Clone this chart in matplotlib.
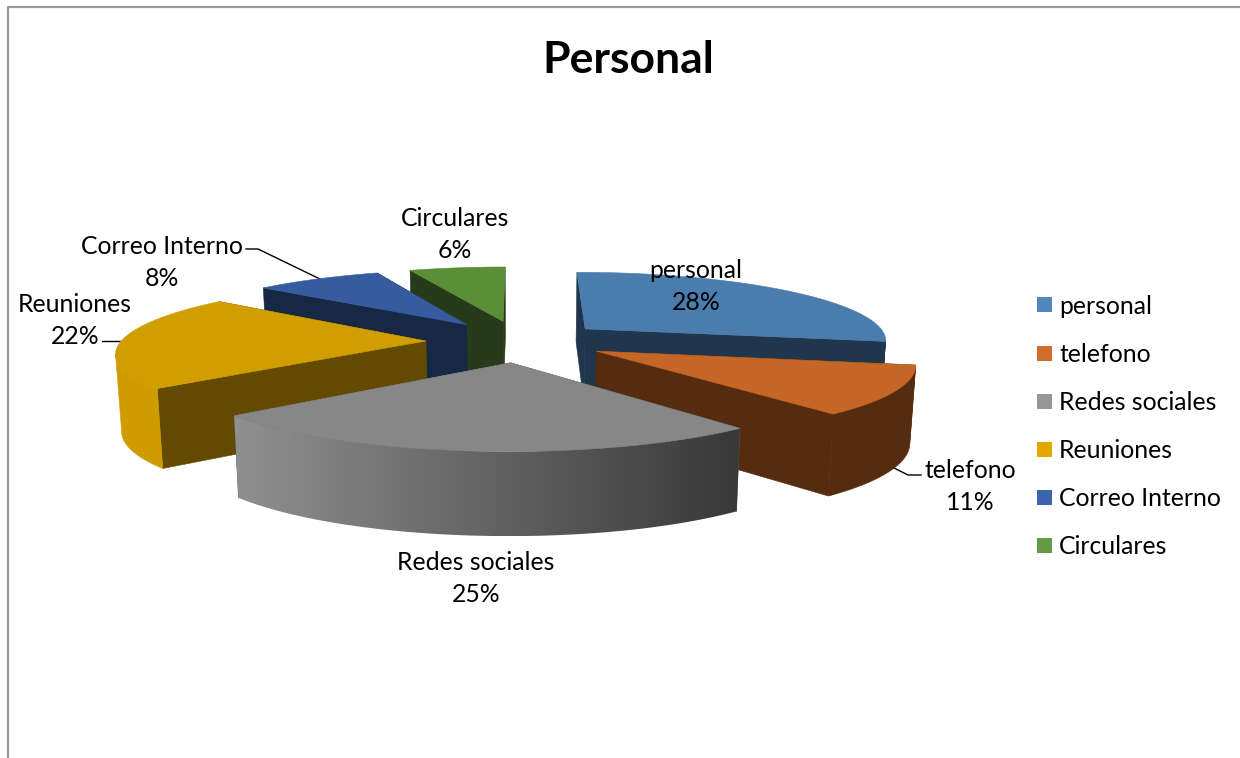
import numpy as np
from matplotlib import pyplot as plt
from matplotlib.colors import LinearSegmentedColormap
from matplotlib.patches import Polygon

plt.rcParams['font.family'] = ['Lato', 'DejaVu Sans']

categories = ['personal', 'telefono', 'Redes sociales', 'Reuniones', 'Correo Interno', 'Circulares']
values = [28, 11, 25, 22, 8, 6]
top_colors = ['#4a7cad', '#c46626', '#878787', '#d19e00', '#365c9f', '#5a8f38']
wall_colors = ['#20364d', '#562c10', '#5a5a5a', '#644a00', '#172845', '#273a1a']
outer_colors = ['#20364d', '#562c10', None, '#cf9c00', '#172845', '#273a1a']
legend_colors = ['#5088bd', '#d06c2c', '#969696', '#e2a800', '#3d64ad', '#649a41']
# slices are painted from the back of the pie to the front
paint_order = [5, 4, 3, 0, 1, 2]

# camera for the tilted pie, everything in pixels
cx, cy = 520, 341
rx_left, rx_right = 314, 310
ry = 69.7
persp = 0.151
explode = [0.28, 0.28, 0.30, 0.30, 0.30, 0.30]
radius = [0.98, 0.99, 0.98, 0.97, 0.97, 0.97]
depth = 76
shrink = 0.985


def project(x, c):
    w = 1 - persp * c
    rx = np.where(np.asarray(x) < 0, rx_left, rx_right)
    return cx + rx * x / w, cy + ry * c / w


def project_low(x, c):
    # same point on the underside of the pie
    sx, sy = project(x, c)
    return cx + (sx - cx) * shrink, sy + depth / (1 - 0.08 * c)


def fill_xy(ax, xs, ys, color, z):
    ax.fill(xs, ys, color=color, linewidth=0.4, zorder=z)


fig = plt.figure(figsize=(12.4, 7.58), dpi=100)
ax = fig.add_axes([0, 0, 1, 1])

# outline of the chart area, cut off on the right and at the bottom
ax.plot([7.5, 7.5, 1240], [758, 6.5, 6.5], color='#9a9a9a', lw=1.6, zorder=1)

edges = np.cumsum([0] + values) * 3.6
gray_ramp = LinearSegmentedColormap.from_list('wall', ['#909090', '#383838'])

z = 2
for i in paint_order:
    start, end = edges[i], edges[i + 1]
    mid = np.radians((start + end) / 2)
    deg = np.linspace(start, end, 80)
    t = np.radians(deg)
    ax0 = explode[i] * np.sin(mid)
    ac0 = -explode[i] * np.cos(mid)
    x = ax0 + radius[i] * np.sin(t)
    c = ac0 - radius[i] * np.cos(t)
    topx, topy = project(x, c)
    lowx, lowy = project_low(x, c)
    apx, apy = project(ax0, ac0)
    alx, aly = project_low(ax0, ac0)

    # the two cut faces
    for k in (0, -1):
        fill_xy(ax, [apx, topx[k], lowx[k], alx], [apy, topy[k], lowy[k], aly], wall_colors[i], z)

    # outer wall, only the part turned towards the viewer (up to the silhouette)
    lo = deg[np.argmax(topx)] if start < 90 else start
    hi = deg[np.argmin(topx)] if end > 270 else end
    front = (deg >= lo) & (deg <= hi) & (start < 270)
    if front.sum() > 1:
        wallx = np.r_[topx[front], lowx[front][::-1]]
        wally = np.r_[topy[front], lowy[front][::-1]]
        if outer_colors[i] is None:
            # the big grey slice gets a left to right ramp
            shape = Polygon(np.c_[wallx, wally], closed=True, transform=ax.transData, fc='none', ec='none')
            ax.add_patch(shape)
            ramp = ax.imshow(np.linspace(0, 1, 256).reshape(1, -1), cmap=gray_ramp, aspect='auto',
                             extent=[wallx.min(), wallx.max(), wally.max(), wally.min()], zorder=z + 0.2)
            ramp.set_clip_path(shape)
        else:
            fill_xy(ax, wallx, wally, outer_colors[i], z + 0.2)

    fill_xy(ax, np.r_[apx, topx], np.r_[apy, topy], top_colors[i], z + 0.5)
    z += 1

ax.set_xlim(0, 1240)
ax.set_ylim(758, 0)
ax.axis('off')

# data labels
label_pos = [(696, 271), (970, 470), (476, 562), (75, 304), (162, 246), (455, 218)]
for name, v, (lx, ly) in zip(categories, values, label_pos):
    ax.text(lx, ly, name, ha='center', va='center', fontsize=17.8, color='black', zorder=20)
    ax.text(lx, ly + 32, f'{v}%', ha='center', va='center', fontsize=17.8, color='black', zorder=20)

# leader lines
ax.plot([246, 258, 320], [249, 249, 279], color='black', lw=1, zorder=1.5)
ax.plot([102, 120], [340.5, 340.5], color='black', lw=1, zorder=1.5)
ax.plot([921, 908, 892], [475, 475, 467], color='black', lw=1, zorder=1.5)

# legend
legend_y = [304, 353, 401, 449, 497, 545]
for name, col, ly in zip(categories, legend_colors, legend_y):
    ax.fill([1037, 1052, 1052, 1037], [ly - 7.5, ly - 7.5, ly + 7.5, ly + 7.5], color=col, linewidth=0, zorder=5)
    ax.text(1059, ly + 2, name, ha='left', va='center', fontsize=17.8, color='black', zorder=20)

ax.text(628, 60, 'Personal', ha='center', va='center', fontsize=32, fontweight='bold', color='black', zorder=20)

fig.savefig('out.png', dpi=100)
